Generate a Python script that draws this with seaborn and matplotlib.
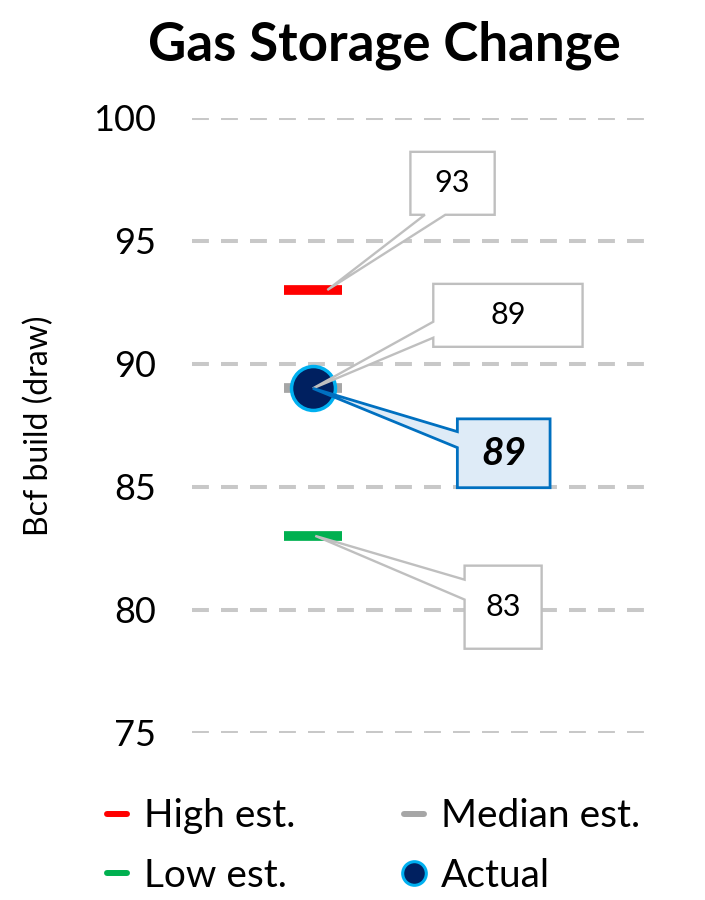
import matplotlib
matplotlib.use("Agg")
import matplotlib.pyplot as plt
import seaborn as sns
import pandas as pd
from matplotlib.patches import Polygon
from matplotlib.lines import Line2D

# values
series = ["High est.", "Median est.", "Low est."]
est_values = [93, 89, 83]
est_colors = ["#FF0000", "#A6A6A6", "#00B050"]
actual_value = 89
yticks = [75, 80, 85, 90, 95, 100]

sns.set_style("white")
plt.rcParams["font.family"] = ["Lato", "DejaVu Sans"]
plt.rcParams["text.color"] = "black"
plt.rcParams["ytick.color"] = "black"
plt.rcParams["axes.labelcolor"] = "black"

fig = plt.figure(figsize=(7.05, 9), dpi=100)
ax = fig.add_axes([0.273, 0.186, 0.649, 0.683])

# estimate dashes
for name, val, col in zip(series, est_values, est_colors):
    ax.plot([0], [val], marker="_", markersize=42, markeredgewidth=7,
            color=col, linestyle="none", zorder=3)

# actual point
df = pd.DataFrame({"x": [0], "y": [actual_value]})
sns.scatterplot(data=df, x="x", y="y", ax=ax, s=1000, color="#002060",
                edgecolor="#00B0F0", linewidth=2.5, zorder=4, legend=False)


def callout(box, wedge, tip, side, text, fc, ec, lw, **kw):
    x0, x1, ylo, yhi = box
    a, b = wedge
    if side == "left":
        pts = [(x0, yhi), (x1, yhi), (x1, ylo), (x0, ylo), (x0, a), tip, (x0, b)]
    else:  # bottom
        pts = [(x0, yhi), (x1, yhi), (x1, ylo), (b, ylo), tip, (a, ylo), (x0, ylo)]
    ax.add_patch(Polygon(pts, closed=True, facecolor=fc, edgecolor=ec,
                         linewidth=lw, zorder=5, clip_on=False))
    ax.text((x0 + x1) / 2, (ylo + yhi) / 2, text, ha="center", va="center",
            zorder=6, **kw)


callout((0.81, 1.51, 96.06, 98.62), (0.93, 1.10), (0.12, est_values[0]),
        "bottom", str(est_values[0]), "white", "#BFBFBF", 1.7, fontsize=22)
callout((1.0, 2.24, 90.69, 93.25), (91.06, 91.71), (0.0, est_values[1]),
        "left", str(est_values[1]), "white", "#BFBFBF", 1.7, fontsize=22)
callout((1.20, 1.97, 84.96, 87.76), (86.59, 87.24), (0.0, actual_value),
        "left", str(actual_value), "#DEEBF7", "#0070C0", 2.0,
        fontsize=28, fontweight="bold", fontstyle="italic")
callout((1.26, 1.90, 78.41, 81.79), (80.41, 81.22), (0.02, est_values[2]),
        "left", str(est_values[2]), "white", "#BFBFBF", 1.7, fontsize=22)

ax.set_xlim(-1, 2.8)
ax.set_ylim(75, 100)
ax.set_yticks(yticks)
ax.set_xticks([])
ax.set_xlabel("")
ax.set_ylabel("Bcf build (draw)", fontsize=23, labelpad=28)
ax.tick_params(axis="y", labelsize=26, length=0, pad=26)
ax.yaxis.grid(True, color="#C8C8C8", linestyle=(0, (4.2, 3.0)), linewidth=2.9)
ax.set_axisbelow(True)
for s in ax.spines.values():
    s.set_visible(False)

fig.text(0.545, 0.95, "Gas Storage Change", ha="center", va="center",
         fontsize=38, fontweight="bold")

handles = [
    Line2D([], [], color=est_colors[0], linewidth=4.3),
    Line2D([], [], color=est_colors[2], linewidth=4.3),
    Line2D([], [], color=est_colors[1], linewidth=4.3),
    Line2D([], [], marker="o", linestyle="none", markersize=17,
           markerfacecolor="#002060", markeredgecolor="#00B0F0",
           markeredgewidth=2.2),
]
labels = [series[0], series[2], series[1], "Actual"]
fig.legend(handles, labels, ncol=2, loc="upper left",
           bbox_to_anchor=(0.152, 0.113), frameon=False, fontsize=28,
           handlelength=0.5, handletextpad=0.45, columnspacing=2.8,
           labelspacing=0.6, borderpad=0, borderaxespad=0)

fig.savefig("out.png", dpi=100)
